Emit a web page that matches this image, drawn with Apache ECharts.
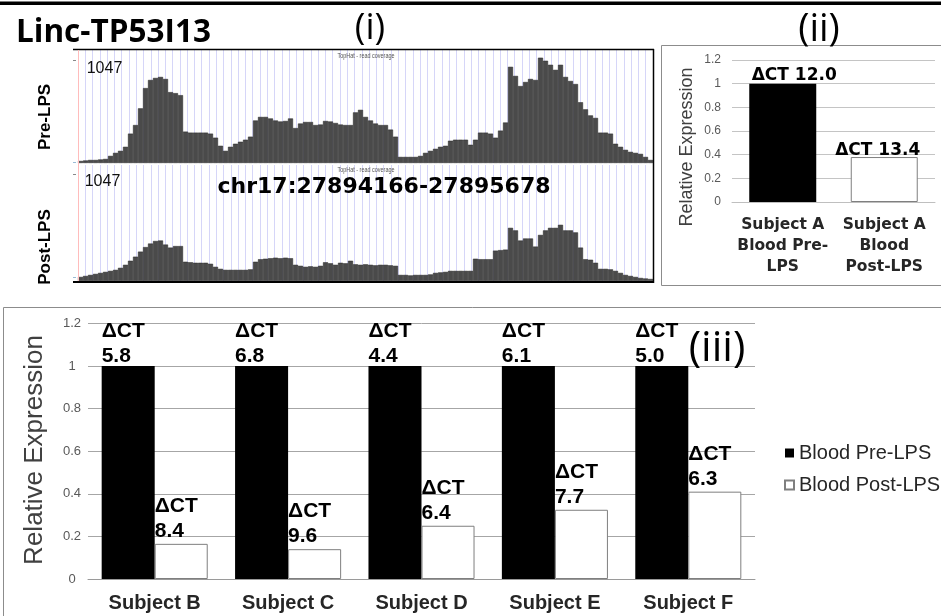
<!DOCTYPE html>
<html>
<head>
<meta charset="utf-8">
<script src="https://cdn.jsdelivr.net/npm/echarts@6/dist/echarts.min.js"></script>
<style>
  html, body { margin: 0; padding: 0; background: #ffffff; }
  #chart { width: 941px; height: 616px; }
</style>
</head>
<body>
<div id="chart"></div>
<script>
// TopHat read coverage across chr17:27894166-27895678, one value per bin (scale 0-1047)
const preLpsCoverage = [
  20, 25, 30, 30, 35, 40, 70, 100, 120, 160, 290, 375, 540, 740, 820, 840, 850, 830, 700, 690,
  670, 310, 300, 300, 300, 300, 290, 250, 170, 120, 160, 190, 210, 230, 260, 420, 455, 455, 440, 420,
  410, 415, 440, 345, 390, 405, 405, 375, 380, 415, 410, 395, 380, 375, 375, 500, 525, 455, 420, 390,
  375, 375, 330, 260, 60, 60, 60, 60, 70, 100, 120, 140, 160, 170, 220, 230, 230, 230, 180, 230,
  300, 300, 290, 250, 320, 400, 950, 860, 760, 800, 830, 820, 1040, 1010, 970, 920, 970, 850, 810, 780,
  600, 530, 470, 445, 300, 300, 290, 190, 160, 130, 110, 100, 90, 60, 30
];
const postLpsCoverage = [
  40, 50, 60, 70, 80, 90, 100, 110, 130, 160, 200, 240, 290, 335, 370, 395, 400, 360, 330, 345,
  345, 190, 185, 180, 180, 180, 170, 140, 120, 110, 110, 110, 110, 110, 115, 190, 215, 220, 225, 230,
  225, 230, 225, 160, 150, 140, 145, 140, 150, 185, 175, 160, 180, 175, 200, 165, 160, 165, 160, 155,
  160, 160, 155, 150, 60, 60, 55, 60, 60, 60, 65, 80, 85, 90, 100, 100, 100, 100, 100, 220,
  215, 215, 215, 300, 305, 310, 525, 500, 400, 420, 420, 340, 455, 500, 525, 525, 555, 500, 500, 480,
  330, 215, 210, 180, 120, 120, 115, 100, 80, 60, 50, 40, 30, 25, 20
];
const coverageMax = 1047;

// Subject A, blood before and after LPS
const subjectACategories = ['Subject A\nBlood Pre-\nLPS', 'Subject A\nBlood\nPost-LPS'];
const subjectAExpression = [1, 0.38];
const subjectADeltaCt = [12.0, 13.4];

// Subjects B-F
const subjects = ['Subject B', 'Subject C', 'Subject D', 'Subject E', 'Subject F'];
const preLpsExpression = [1, 1, 1, 1, 1];
const postLpsExpression = [0.165, 0.14, 0.25, 0.325, 0.41];
const preLpsDeltaCt = [5.8, 6.8, 4.4, 6.1, 5.0];
const postLpsDeltaCt = [8.4, 9.6, 6.4, 7.7, 6.3];

const expressionMax = 1.2;
const expressionStep = 0.2;

const bins = preLpsCoverage.map((_, i) => String(i));
const SANS = '"Liberation Sans", Arial, sans-serif';
const WIDE = '"DejaVu Sans", sans-serif';

const chart = echarts.init(document.getElementById('chart'), null, { renderer: 'canvas' });

const hiddenValueY = (grid, max) => ({ gridIndex: grid, type: 'value', min: 0, max: max, show: false });
const guideX = (grid) => ({
  gridIndex: grid, type: 'value', min: 0, max: 79, interval: 1,
  axisLine: { show: false }, axisTick: { show: false }, axisLabel: { show: false },
  splitLine: { show: true, lineStyle: { color: '#d6d6f8', width: 1 } }
});

const coverageSeries = (name, data, xi, yi) => ({
  name: name, type: 'bar', xAxisIndex: xi, yAxisIndex: yi, data: data,
  barCategoryGap: '0%', silent: true,
  itemStyle: { color: '#4a4a4a', borderColor: '#262626', borderWidth: 0.5 }
});

const option = {
  animation: false,
  backgroundColor: '#ffffff',
  textStyle: { fontFamily: SANS },
  grid: [
    { left: 78, top: 57, width: 575, height: 106 },       // 0 pre-LPS coverage
    { left: 78, top: 175, width: 575, height: 106 },      // 1 post-LPS coverage
    { left: 78, top: 49, width: 575, height: 114 },       // 2 guide lines, pre
    { left: 78, top: 165, width: 575, height: 116 },      // 3 guide lines, post
    { left: 732, top: 60, width: 203, height: 142 },      // 4 subject A
    { left: 88, top: 323.4, width: 667, height: 255.6 }   // 5 subjects B-F
  ],
  xAxis: [
    { gridIndex: 0, type: 'category', data: bins, show: false },
    { gridIndex: 1, type: 'category', data: bins, show: false },
    guideX(2),
    guideX(3),
    {
      gridIndex: 4, type: 'category', data: subjectACategories,
      axisLine: { lineStyle: { color: '#bfbfbf' } },
      axisTick: { length: 5, lineStyle: { color: '#bfbfbf' } },
      axisLabel: {
        margin: 12, interval: 0, color: '#262626',
        fontFamily: WIDE, fontWeight: 'bold', fontSize: 15.5, lineHeight: 21
      }
    },
    {
      gridIndex: 5, type: 'category', data: subjects,
      axisLine: { lineStyle: { color: '#9a9a9a' } },
      axisTick: { length: 6, lineStyle: { color: '#9a9a9a' } },
      axisLabel: {
        margin: 14, interval: 0, color: '#262626',
        fontFamily: SANS, fontWeight: 'bold', fontSize: 20
      }
    }
  ],
  yAxis: [
    hiddenValueY(0, coverageMax),
    hiddenValueY(1, coverageMax),
    hiddenValueY(2, 1),
    hiddenValueY(3, 1),
    {
      gridIndex: 4, type: 'value', min: 0, max: expressionMax, interval: expressionStep,
      axisLine: { show: false }, axisTick: { show: false },
      axisLabel: { margin: 11, color: '#595959', fontSize: 12 },
      splitLine: { lineStyle: { color: '#c4c4c4' } }
    },
    {
      gridIndex: 5, type: 'value', min: 0, max: expressionMax, interval: expressionStep,
      axisLine: { show: false }, axisTick: { show: false },
      axisLabel: { margin: 16, align: 'center', color: '#595959', fontSize: 13 },
      splitLine: { lineStyle: { color: '#a6a6a6' } }
    }
  ],
  legend: {
    data: ['Blood Pre-LPS', 'Blood Post-LPS'],
    orient: 'vertical', left: 779, top: 438,
    icon: 'rect', itemWidth: 9, itemHeight: 9, itemGap: 12,
    textStyle: { fontFamily: SANS, fontSize: 20, color: '#262626' },
    selectedMode: false
  },
  series: [
    coverageSeries('Pre-LPS coverage', preLpsCoverage, 0, 0),
    coverageSeries('Post-LPS coverage', postLpsCoverage, 1, 1),
    {
      name: 'Subject A', type: 'bar', xAxisIndex: 4, yAxisIndex: 4, barWidth: '66%',
      data: subjectAExpression.map((v, i) => ({
        value: v,
        itemStyle: i === 0
          ? { color: '#000000' }
          : { color: '#ffffff', borderColor: '#7f7f7f', borderWidth: 1 },
        label: i === 0 ? { offset: [11.5, 0] } : { offset: [-6.5, 2.5] }
      })),
      label: {
        show: true, position: 'top', distance: 0,
        fontFamily: WIDE, fontWeight: 'bold', fontSize: 17, color: '#000',
        formatter: (p) => '\u0394CT ' + subjectADeltaCt[p.dataIndex].toFixed(1)
      }
    },
    {
      name: 'Blood Pre-LPS', type: 'bar', xAxisIndex: 5, yAxisIndex: 5,
      data: preLpsExpression, barGap: '0%', barCategoryGap: '20.5%',
      itemStyle: { color: '#000000' },
      label: {
        show: true, position: [0, 3], align: 'left', verticalAlign: 'bottom',
        fontFamily: SANS, fontWeight: 'bold', fontSize: 21, lineHeight: 25, color: '#000',
        formatter: (p) => '\u0394CT\n' + preLpsDeltaCt[p.dataIndex].toFixed(1)
      }
    },
    {
      name: 'Blood Post-LPS', type: 'bar', xAxisIndex: 5, yAxisIndex: 5,
      data: postLpsExpression, barGap: '0%', barCategoryGap: '20.5%',
      itemStyle: { color: '#ffffff', borderColor: '#7f7f7f', borderWidth: 1 },
      label: {
        show: true, position: [0, 0], align: 'left', verticalAlign: 'bottom',
        fontFamily: SANS, fontWeight: 'bold', fontSize: 21, lineHeight: 25, color: '#000',
        formatter: (p) => '\u0394CT\n' + postLpsDeltaCt[p.dataIndex].toFixed(1)
      }
    }
  ],
  graphic: [
    // heavy rule across the top
    { type: 'rect', z: 100, shape: { x: 0, y: 1.5, width: 941, height: 3.5 }, style: { fill: '#000' } },
    // panel boxes
    { type: 'rect', z: 90, shape: { x: 661.5, y: 45.5, width: 300, height: 240 },
      style: { fill: null, stroke: '#8c8c8c', lineWidth: 1 } },
    { type: 'rect', z: 90, shape: { x: 3.5, y: 307.5, width: 960, height: 330 },
      style: { fill: null, stroke: '#8c8c8c', lineWidth: 1 } },
    // coverage track frame
    { type: 'line', z: 100, shape: { x1: 73, y1: 49.5, x2: 654, y2: 49.5 }, style: { stroke: '#000', lineWidth: 1.5 } },
    { type: 'line', z: 100, shape: { x1: 653.5, y1: 49, x2: 653.5, y2: 283 }, style: { stroke: '#000', lineWidth: 1.5 } },
    { type: 'line', z: 100, shape: { x1: 73, y1: 282, x2: 654, y2: 282 }, style: { stroke: '#000', lineWidth: 2 } },
    { type: 'line', z: 100, shape: { x1: 78.5, y1: 50, x2: 78.5, y2: 281 }, style: { stroke: '#ffbcbc', lineWidth: 1 } },
    { type: 'line', z: 100, shape: { x1: 73, y1: 60.5, x2: 76, y2: 60.5 }, style: { stroke: '#888', lineWidth: 1 } },
    { type: 'line', z: 100, shape: { x1: 73, y1: 174.5, x2: 76, y2: 174.5 }, style: { stroke: '#888', lineWidth: 1 } },
    { type: 'line', z: 100, shape: { x1: 73, y1: 162.5, x2: 76, y2: 162.5 }, style: { stroke: '#9bbcd6', lineWidth: 1 } },
    { type: 'line', z: 100, shape: { x1: 73, y1: 277.5, x2: 76, y2: 277.5 }, style: { stroke: '#9bbcd6', lineWidth: 1 } },
    // titles and panel tags
    { type: 'text', z: 110, x: 16, y: 33,
      style: { text: 'Linc-TP53I13', font: 'bold 31.5px "Open Sans", sans-serif', fill: '#000',
               textAlign: 'left', textVerticalAlign: 'middle' } },
    { type: 'text', z: 110, x: 370, y: 29,
      style: { text: '(i)', font: '36px "Open Sans", sans-serif', fill: '#000',
               textAlign: 'center', textVerticalAlign: 'middle' } },
    { type: 'text', z: 110, x: 819, y: 30,
      style: { text: '(ii)', font: '38px "Open Sans", sans-serif', fill: '#000',
               textAlign: 'center', textVerticalAlign: 'middle' } },
    { type: 'text', z: 110, x: 717, y: 349,
      style: { text: '(iii)', font: '42px "Open Sans", sans-serif', fill: '#000',
               textAlign: 'center', textVerticalAlign: 'middle' } },
    // coverage track annotations
    { type: 'text', z: 110, x: 104.5, y: 68.5,
      style: { text: String(coverageMax), font: '16px ' + SANS, fill: '#111',
               textAlign: 'center', textVerticalAlign: 'middle' } },
    { type: 'text', z: 110, x: 102.5, y: 181.5,
      style: { text: String(coverageMax), font: '16px ' + SANS, fill: '#111',
               textAlign: 'center', textVerticalAlign: 'middle' } },
    { type: 'text', z: 110, x: 366, y: 56, scaleX: 0.78,
      style: { text: 'TopHat - read coverage', font: '7px ' + SANS, fill: '#555',
               textAlign: 'center', textVerticalAlign: 'middle' } },
    { type: 'text', z: 110, x: 366, y: 170.5, scaleX: 0.78,
      style: { text: 'TopHat - read coverage', font: '7px ' + SANS, fill: '#555',
               textAlign: 'center', textVerticalAlign: 'middle' } },
    { type: 'text', z: 110, x: 384, y: 187,
      style: { text: 'chr17:27894166-27895678', font: 'bold 22px ' + WIDE, fill: '#000',
               textAlign: 'center', textVerticalAlign: 'middle' } },
    { type: 'text', z: 110, x: 45, y: 117, rotation: Math.PI / 2,
      style: { text: 'Pre-LPS', font: 'bold 17px ' + SANS, fill: '#000',
               textAlign: 'center', textVerticalAlign: 'middle' } },
    { type: 'text', z: 110, x: 45, y: 247, rotation: Math.PI / 2,
      style: { text: 'Post-LPS', font: 'bold 17px ' + SANS, fill: '#000',
               textAlign: 'center', textVerticalAlign: 'middle' } },
    // value axis titles
    { type: 'text', z: 110, x: 687, y: 147, rotation: Math.PI / 2,
      style: { text: 'Relative Expression', font: '18px ' + SANS, fill: '#404040',
               textAlign: 'center', textVerticalAlign: 'middle' } },
    { type: 'text', z: 110, x: 35, y: 450, rotation: Math.PI / 2,
      style: { text: 'Relative Expression', font: '26px ' + SANS, fill: '#404040',
               textAlign: 'center', textVerticalAlign: 'middle' } }
  ]
};

chart.setOption(option);
</script>
</body>
</html>
